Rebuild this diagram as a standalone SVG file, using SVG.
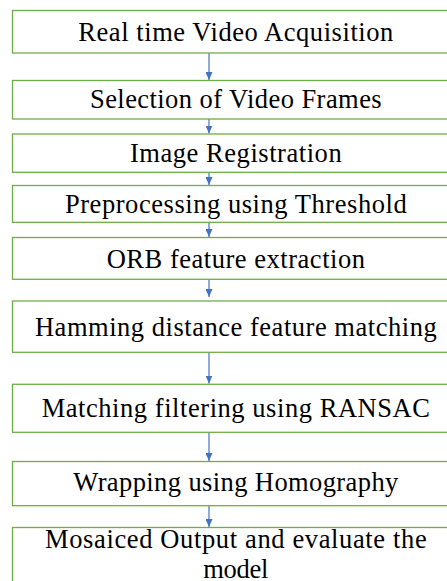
<svg xmlns="http://www.w3.org/2000/svg" width="447" height="581" viewBox="0 0 447 581">
<defs>
<style>
.box{fill:#ffffff;stroke:#70AD47;stroke-width:1.3}
.lbl{font-family:"Liberation Serif","Times New Roman",serif;font-size:26.5px;fill:#000000;text-anchor:middle}
.conn{stroke:#4472C4;stroke-width:1.2;fill:none;marker-end:url(#arr)}
</style>
<marker id="arr" viewBox="0 0 8 7" refX="8" refY="3.5" markerWidth="8" markerHeight="7" markerUnits="userSpaceOnUse" orient="auto">
<path d="M0,0 L8,3.5 L0,7 Z" fill="#4472C4"/>
</marker>
</defs>
<rect x="0" y="0" width="447" height="581" fill="#ffffff"/>
<g id="connectors">
<line class="conn" x1="209" y1="53" x2="209" y2="80"/>
<line class="conn" x1="209" y1="119" x2="209" y2="133.5"/>
<line class="conn" x1="209" y1="172.3" x2="209" y2="185"/>
<line class="conn" x1="209" y1="222.3" x2="209" y2="237"/>
<line class="conn" x1="209" y1="279.3" x2="209" y2="297"/>
<line class="conn" x1="209" y1="352.3" x2="209" y2="383.5"/>
<line class="conn" x1="209" y1="432.3" x2="209" y2="461"/>
<line class="conn" x1="209" y1="505.7" x2="209" y2="527"/>
</g>
<g id="n1"><rect class="box" x="12.5" y="10.5" width="448" height="42.5"/><text class="lbl" x="235.8" y="40.7" textLength="315" lengthAdjust="spacing">Real time Video Acquisition</text></g>
<g id="n2"><rect class="box" x="12.5" y="80.5" width="448" height="38.5"/><text class="lbl" x="235.8" y="108" textLength="291.7" lengthAdjust="spacing">Selection of Video Frames</text></g>
<g id="n3"><rect class="box" x="12.5" y="134" width="448" height="38.3"/><text class="lbl" x="235.8" y="161.7" textLength="211.7" lengthAdjust="spacing">Image Registration</text></g>
<g id="n4"><rect class="box" x="12.5" y="185.5" width="448" height="36.8"/><text class="lbl" x="235.8" y="212.7" textLength="341.7" lengthAdjust="spacing">Preprocessing using Threshold</text></g>
<g id="n5"><rect class="box" x="12.5" y="237.5" width="448" height="41.8"/><text class="lbl" x="235.8" y="267.7" textLength="258.3" lengthAdjust="spacing">ORB feature extraction</text></g>
<g id="n6"><rect class="box" x="12.5" y="301" width="448" height="51.3"/><text class="lbl" x="235.8" y="335.7" textLength="401.7" lengthAdjust="spacing">Hamming distance feature matching</text></g>
<g id="n7"><rect class="box" x="12.5" y="384.3" width="448" height="48"/><text class="lbl" x="235.8" y="416.7" textLength="388.3" lengthAdjust="spacing">Matching filtering using RANSAC</text></g>
<g id="n8"><rect class="box" x="12.5" y="461.5" width="448" height="44.2"/><text class="lbl" x="235.8" y="491" textLength="325" lengthAdjust="spacing">Wrapping using Homography</text></g>
<g id="n9"><rect class="box" x="12.5" y="527.5" width="448" height="70"/><text class="lbl" x="235.8" y="547.7" textLength="381.7" lengthAdjust="spacing">Mosaiced Output and evaluate the</text><text class="lbl" x="235.8" y="577.5" textLength="65" lengthAdjust="spacing">model</text></g>
</svg>
